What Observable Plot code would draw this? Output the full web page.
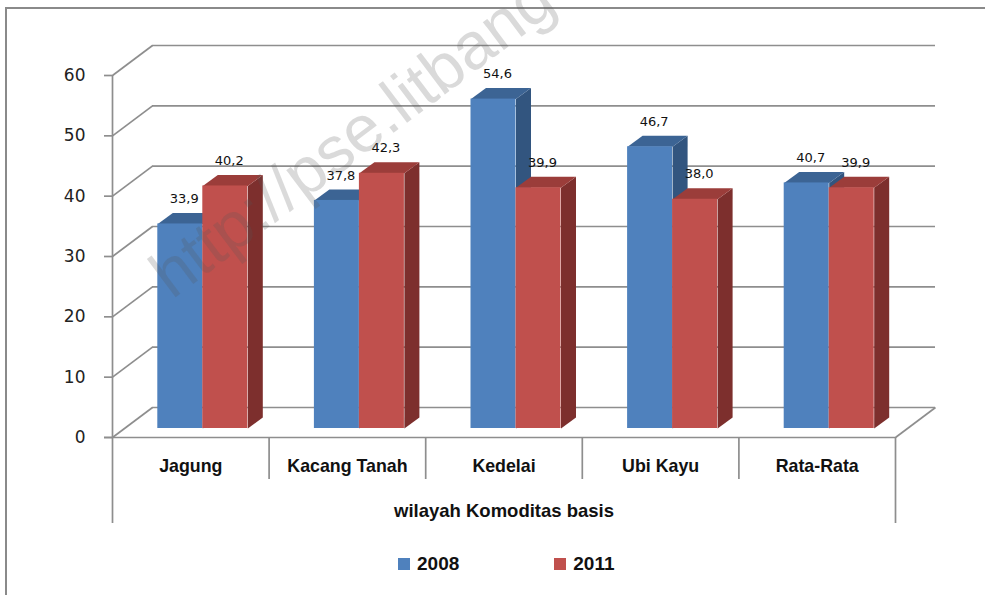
<!DOCTYPE html>
<html>
<head>
<meta charset="utf-8">
<script src="https://cdn.jsdelivr.net/npm/d3@7"></script>
<script src="https://cdn.jsdelivr.net/npm/@observablehq/plot@0.6"></script>
<style>
  body { margin: 0; background: #fff; }
  #wrap { position: relative; width: 985px; height: 595px; overflow: hidden; background: #fff; }
  #frame { position: absolute; left: 5px; top: 7px; width: 990px; height: 600px;
           border-top: 2px solid #8a8a8a; border-left: 2px solid #8a8a8a; }
  #chart { position: absolute; left: 0; top: 0; }
  #legend { position: absolute; top: 552px; left: 398px; height: 24px; display: flex; align-items: center;
            font: bold 19px "Liberation Sans", Arial, sans-serif; color: #111; }
  .item { display: flex; align-items: center; }
  .sw { width: 12px; height: 12px; margin-right: 7px; }
  #mark { position: absolute; left: 0; top: 0; pointer-events: none; }
</style>
</head>
<body>
<div id="wrap">
  <div id="frame"></div>
  <div id="chart"></div>
  <div id="legend"></div>
  <svg id="mark" width="985" height="595"></svg>
</div>
<script>
// ---- data ----
const categories = ["Jagung", "Kacang Tanah", "Kedelai", "Ubi Kayu", "Rata-Rata"];
const seriesNames = ["2008", "2011"];
const values2008 = [33.9, 37.8, 54.6, 46.7, 40.7];
const values2011 = [40.2, 42.3, 39.9, 38.0, 39.9];
const yTicks = [0, 10, 20, 30, 40, 50, 60];
const axisTitle = "wilayah Komoditas basis";
const watermark = "http://pse.litbang";

// ---- styles ----
const palette = {
  "2008": { front: "#4F81BD", top: "#3C6494", side: "#32557F" },
  "2011": { front: "#C0504D", top: "#9B3D3A", side: "#7D2F2D" }
};
const gridColor = "#8e8e8e";

// ---- layout ----
const W = 985, H = 540, ML = 112, MR = 90, MT = 75, MB = H - 437;
const nCat = categories.length;
const yMax = yTicks[yTicks.length - 1];
const ux = nCat / (W - ML - MR);      // data units per px (x)
const uy = yMax / (H - MT - MB);      // data units per px (y)
const WX = 40 * ux, WY = 30 * uy;     // wall depth
const BW = 45 * ux;                   // bar width
const DX = 15 * ux, DY = 11 * uy;     // bar depth
const BOX = 12, BOY = -9;             // bar front-face pixel offset

const fmt = v => v.toFixed(1).replace(".", ",");

const bars = [];
[values2008, values2011].forEach((vals, s) => {
  vals.forEach((v, c) => {
    const x1 = c + 0.5 + (s - 1) * BW;
    bars.push({ series: seriesNames[s], cat: categories[c], value: v, x1, x2: x1 + BW, id: s + "-" + c });
  });
});

function topPoly(b) {
  return [[b.x1, b.value], [b.x2, b.value], [b.x2 + DX, b.value + DY], [b.x1 + DX, b.value + DY], [b.x1, b.value]]
    .map(([x, y]) => ({ id: b.id, x, y }));
}
function sidePoly(b) {
  return [[b.x2, 0], [b.x2 + DX, DY], [b.x2 + DX, b.value + DY], [b.x2, b.value], [b.x2, 0]]
    .map(([x, y]) => ({ id: b.id, x, y }));
}

const barMarks = [];
for (const s of seriesNames) {
  const bs = bars.filter(b => b.series === s);
  const col = palette[s];
  barMarks.push(
    Plot.line(bs.flatMap(sidePoly), { x: "x", y: "y", z: "id", fill: col.side, stroke: "none", dx: BOX, dy: BOY }),
    Plot.line(bs.flatMap(topPoly), { x: "x", y: "y", z: "id", fill: col.top, stroke: "none", dx: BOX, dy: BOY }),
    Plot.rect(bs, { x1: "x1", x2: "x2", y1: 0, y2: "value", fill: col.front, dx: BOX, dy: BOY })
  );
}

const chart = Plot.plot({
  width: W, height: H,
  marginLeft: ML, marginRight: MR, marginTop: MT, marginBottom: MB,
  x: { domain: [0, nCat], axis: null },
  y: { domain: [0, yMax], axis: null },
  style: { background: "transparent", overflow: "visible" },
  marks: [
    // back wall gridlines
    Plot.ruleY(yTicks, { y: d => d + WY, x1: WX, x2: nCat + WX, stroke: gridColor, strokeWidth: 1.7 }),
    // left wall diagonals
    Plot.link(yTicks, { x1: 0, x2: WX, y1: d => d, y2: d => d + WY, stroke: gridColor, strokeWidth: 1.7 }),
    // floor right edge
    Plot.link([0], { x1: nCat, x2: nCat + WX, y1: 0, y2: WY, stroke: gridColor, strokeWidth: 1.7 }),
    // front baseline and ticks
    Plot.ruleY([0], { x1: -8 * ux, x2: nCat, stroke: gridColor, strokeWidth: 1.7 }),
    Plot.ruleY(yTicks, { x1: -8 * ux, x2: 0, stroke: gridColor, strokeWidth: 1.7 }),
    // front vertical axis
    Plot.ruleX([0], { y1: 0, y2: yMax, stroke: gridColor, strokeWidth: 1.7 }),
    // category dividers
    Plot.ruleX(d3.range(nCat + 1), { x: d => d, y1: 0, y2: d => (d === 0 || d === nCat ? -86 : -42) * uy, stroke: gridColor, strokeWidth: 1.7 }),
    ...barMarks,
    // value labels
    Plot.text(bars, { x: b => (b.x1 + b.x2) / 2, y: b => b.value + DY, text: b => fmt(b.value),
      dx: BOX + 4, dy: BOY - 14, fontFamily: "DejaVu Sans", fontSize: 13, fill: "#111" }),
    // y tick labels
    Plot.text(yTicks, { x: 0, y: d => d, text: d => String(d), dx: -27, textAnchor: "end",
      fontFamily: "DejaVu Sans", fontSize: 17, fill: "#222" }),
    // category labels
    Plot.text(categories, { x: (d, i) => i + 0.5, y: 0, text: d => d, dy: 29,
      fontFamily: "Liberation Sans", fontWeight: "bold", fontSize: 17.8, fill: "#111" }),
    // axis title
    Plot.text([axisTitle], { x: nCat / 2, y: 0, text: d => d, dy: 74,
      fontFamily: "Liberation Sans", fontWeight: "bold", fontSize: 18.5, fill: "#111" })
  ]
});
document.getElementById("chart").appendChild(chart);

// legend
const legend = document.getElementById("legend");
seriesNames.forEach((s, i) => {
  const it = document.createElement("div");
  it.className = "item";
  if (i > 0) it.style.marginLeft = "95px";
  const sw = document.createElement("div");
  sw.className = "sw";
  sw.style.background = palette[s].front;
  const t = document.createElement("span");
  t.textContent = s;
  it.appendChild(sw); it.appendChild(t);
  legend.appendChild(it);
});

// watermark
const svg = d3.select("#mark");
svg.append("text")
  .attr("x", 0).attr("y", 0)
  .attr("transform", "translate(172,300) rotate(-37)")
  .attr("font-family", "Liberation Sans, Arial, sans-serif")
  .attr("font-size", 66)
  .attr("fill", "#555")
  .attr("fill-opacity", 0.22)
  .text(watermark);
</script>
</body>
</html>
